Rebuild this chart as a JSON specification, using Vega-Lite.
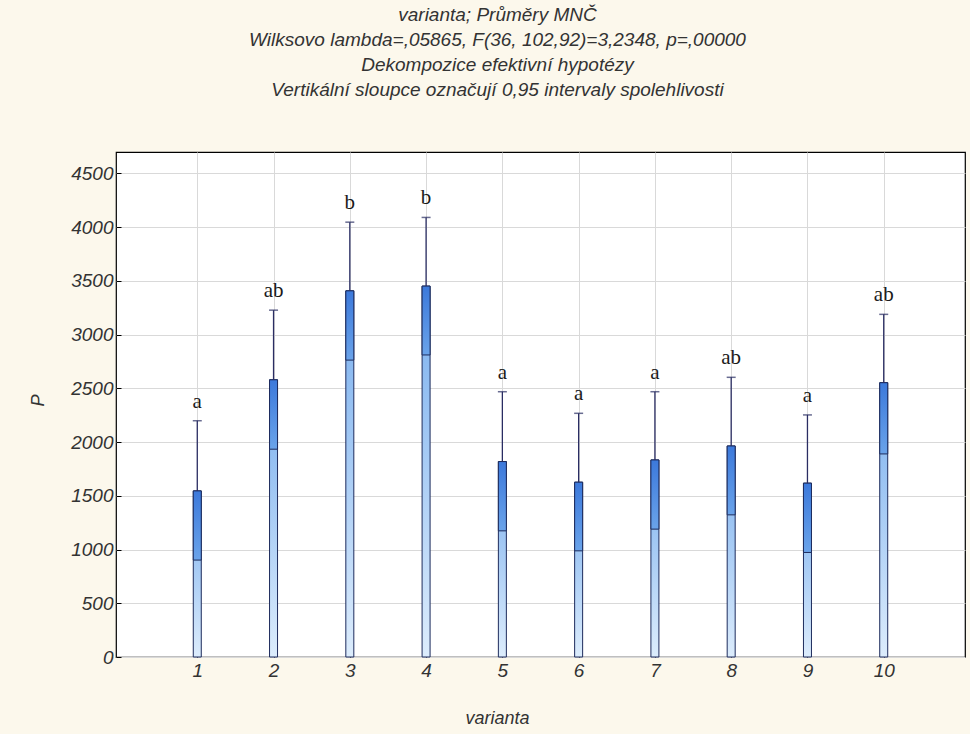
{
  "$schema": "https://vega.github.io/schema/vega-lite/v6.json",
  "width": 849,
  "height": 505,
  "autosize": {"type": "none"},
  "padding": {"left": 116, "top": 152, "right": 5, "bottom": 77},
  "background": "#fcf8ec",
  "config": {
    "view": {"fill": "#ffffff", "stroke": "#000000", "strokeWidth": 1.2},
    "axis": {
      "domain": false,
      "grid": true,
      "gridColor": "#d9d9d9",
      "gridWidth": 1,
      "tickColor": "#000000",
      "tickSize": -5,
      "labelFont": "Liberation Sans",
      "labelFontStyle": "italic",
      "labelFontSize": 19,
      "labelColor": "#333333",
      "titleFont": "Liberation Sans",
      "titleFontStyle": "italic",
      "titleFontWeight": "normal",
      "titleFontSize": 18,
      "titleColor": "#333333"
    }
  },
  "title": {
    "text": [
      "varianta; Průměry MNČ",
      "Wilksovo lambda=,05865, F(36, 102,92)=3,2348, p=,00000",
      "Dekompozice efektivní hypotézy",
      "Vertikální sloupce označují 0,95 intervaly spolehlivosti"
    ],
    "font": "Liberation Sans",
    "fontStyle": "italic",
    "fontWeight": "normal",
    "fontSize": 19,
    "lineHeight": 25,
    "color": "#333333",
    "anchor": "middle",
    "frame": "group",
    "dx": -43,
    "offset": 52
  },
  "data": {
    "values": [
      {"varianta": 1, "mean": 1546, "lower": 902, "upper": 2199, "group": "a"},
      {"varianta": 2, "mean": 2580, "lower": 1934, "upper": 3228, "group": "ab"},
      {"varianta": 3, "mean": 3408, "lower": 2763, "upper": 4047, "group": "b"},
      {"varianta": 4, "mean": 3452, "lower": 2811, "upper": 4091, "group": "b"},
      {"varianta": 5, "mean": 1819, "lower": 1174, "upper": 2469, "group": "a"},
      {"varianta": 6, "mean": 1627, "lower": 988, "upper": 2268, "group": "a"},
      {"varianta": 7, "mean": 1834, "lower": 1190, "upper": 2469, "group": "a"},
      {"varianta": 8, "mean": 1964, "lower": 1323, "upper": 2603, "group": "ab"},
      {"varianta": 9, "mean": 1618, "lower": 973, "upper": 2253, "group": "a"},
      {"varianta": 10, "mean": 2553, "lower": 1890, "upper": 3189, "group": "ab"}
    ]
  },
  "encoding": {
    "x": {
      "field": "varianta",
      "type": "quantitative",
      "scale": {"domain": [0, 11], "nice": false, "zero": false},
      "axis": {
        "values": [1, 2, 3, 4, 5, 6, 7, 8, 9, 10],
        "format": "d",
        "title": "varianta",
        "labelPadding": 9,
        "titleX": 381,
        "titleY": 61,
        "titleBaseline": "middle"
      }
    }
  },
  "layer": [
    {
      "mark": {
        "type": "bar",
        "width": 8,
        "stroke": "#1d2b5c",
        "strokeWidth": 1,
        "color": {
          "gradient": "linear",
          "x1": 0, "y1": 0, "x2": 0, "y2": 1,
          "stops": [
            {"offset": 0, "color": "#78aeee"},
            {"offset": 1, "color": "#dcecfc"}
          ]
        }
      },
      "encoding": {
        "y": {
          "field": "mean",
          "type": "quantitative",
          "scale": {"domain": [0, 4700], "nice": false},
          "axis": {
            "values": [0, 500, 1000, 1500, 2000, 2500, 3000, 3500, 4000, 4500],
            "format": "d",
            "title": "P",
            "labelPadding": 8,
            "titleX": -78,
            "titleY": 248,
            "titleBaseline": "middle"
          }
        }
      }
    },
    {
      "mark": {
        "type": "bar",
        "width": 8,
        "stroke": "#1d2b5c",
        "strokeWidth": 1,
        "color": {
          "gradient": "linear",
          "x1": 0, "y1": 0, "x2": 0, "y2": 1,
          "stops": [
            {"offset": 0, "color": "#3c79db"},
            {"offset": 1, "color": "#6aa3ea"}
          ]
        }
      },
      "encoding": {
        "y": {"field": "lower", "type": "quantitative"},
        "y2": {"field": "mean"}
      }
    },
    {
      "mark": {"type": "rule", "color": "#2a2d63", "strokeWidth": 1.3},
      "encoding": {
        "y": {"field": "mean", "type": "quantitative"},
        "y2": {"field": "upper"}
      }
    },
    {
      "mark": {"type": "tick", "orient": "horizontal", "color": "#2a2d63", "size": 9, "thickness": 1.5},
      "encoding": {
        "y": {"field": "upper", "type": "quantitative"}
      }
    },
    {
      "mark": {
        "type": "text",
        "font": "Liberation Serif",
        "fontSize": 21,
        "color": "#1a1a1a",
        "baseline": "middle",
        "dy": -19
      },
      "encoding": {
        "y": {"field": "upper", "type": "quantitative"},
        "text": {"field": "group"}
      }
    }
  ]
}
